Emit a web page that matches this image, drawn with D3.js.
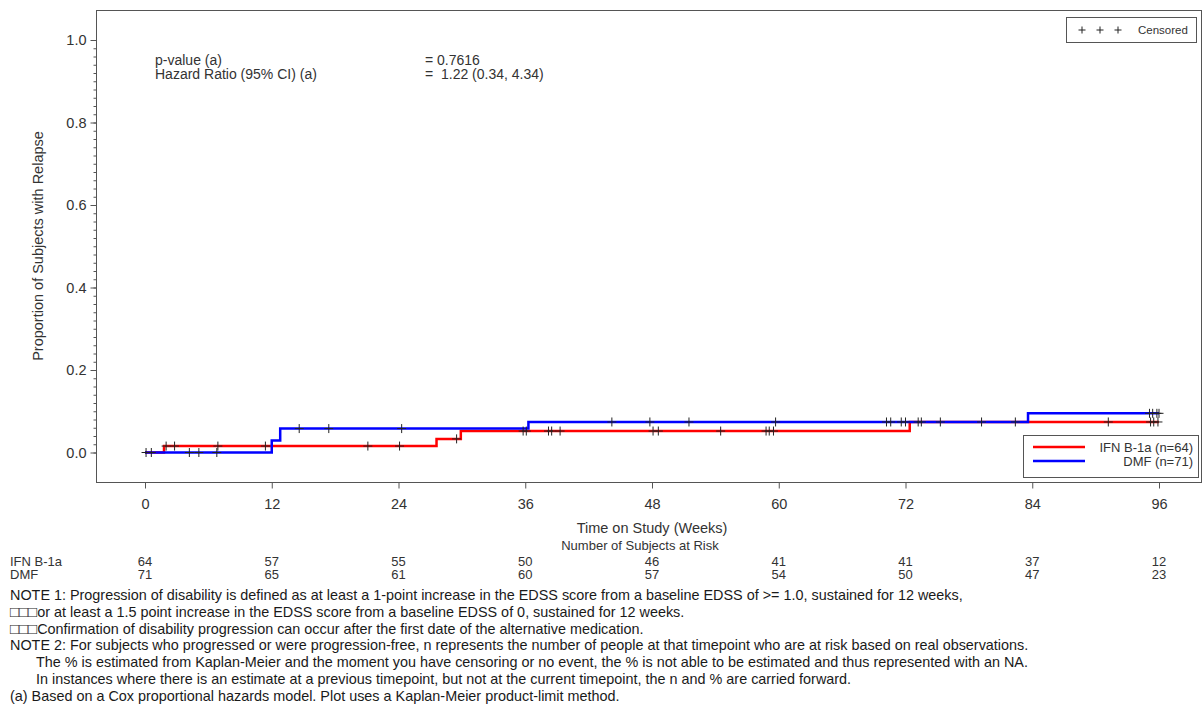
<!DOCTYPE html>
<html>
<head>
<meta charset="utf-8">
<script src="https://cdn.jsdelivr.net/npm/d3@7"></script>
<style>
  body { margin: 0; background: #fff; }
  svg { display: block; }
  text { font-family: "Liberation Sans", Arial, sans-serif; }
</style>
</head>
<body>
<svg id="chart" width="1203" height="706"></svg>
<script>
// Kaplan-Meier time to relapse by treatment arm
const weekTicks = [0, 12, 24, 36, 48, 60, 72, 84, 96];
const yTicks = [0, 0.2, 0.4, 0.6, 0.8, 1.0];

const groupNames = ["IFN B-1a", "DMF"];
const groupLegend = ["IFN B-1a (n=64)", "DMF (n=71)"];
const groupColors = ["#ff0000", "#0000ff"];

// step curves: week of each event and cumulative proportion after it
const ifnEventWeeks = [0, 1.8, 27.6, 29.9, 72.4];
const ifnCumProp    = [0, 0.0156, 0.033, 0.052, 0.074];
const ifnLastWeek = 96.0;
const dmfEventWeeks = [0, 12.0, 12.8, 36.3, 83.6];
const dmfCumProp    = [0, 0.029, 0.058, 0.074, 0.095];
const dmfLastWeek = 96.0;

// censoring times (weeks)
const ifnCensorWeeks = [2.0, 2.8, 6.9, 11.4, 21.1, 24.1, 29.5, 35.8, 36.1, 38.2, 38.5, 39.3,
  48.1, 48.6, 54.5, 58.8, 59.1, 59.5, 91.2, 95.2, 95.5, 95.9];
const dmfCensorWeeks = [0.1, 0.6, 4.2, 5.1, 6.8, 14.6, 17.4, 24.3, 44.2, 47.8, 51.5, 59.7,
  70.2, 70.6, 71.6, 72.0, 73.2, 73.5, 75.3, 79.2, 82.4, 95.1, 95.4, 95.8, 96.0];

// number at risk at each tick week
const ifnAtRisk = [64, 57, 55, 50, 46, 41, 41, 37, 12];
const dmfAtRisk = [71, 65, 61, 60, 57, 54, 50, 47, 23];

const statLabels = ["p-value (a)", "Hazard Ratio (95% CI) (a)"];
const statValues = ["= 0.7616", "=  1.22 (0.34, 4.34)"];

const tofu = "\u25A1\u25A1\u25A1";
const noteLines = [
  { indent: 0, pre: "", text: "NOTE 1: Progression of disability is defined as at least a 1-point increase in the EDSS score from a baseline EDSS of >= 1.0, sustained for 12 weeks," },
  { indent: 0, pre: tofu, text: "or at least a 1.5 point increase in the EDSS score from a baseline EDSS of 0, sustained for 12 weeks." },
  { indent: 0, pre: tofu, text: "Confirmation of disability progression can occur after the first date of the alternative medication." },
  { indent: 0, pre: "", text: "NOTE 2: For subjects who progressed or were progression-free, n represents the number of people at that timepoint who are at risk based on real observations." },
  { indent: 1, pre: "", text: "The % is estimated from Kaplan-Meier and the moment you have censoring or no event, the % is not able to be estimated and thus represented with an NA." },
  { indent: 1, pre: "", text: "In instances where there is an estimate at a previous timepoint, but not at the current timepoint, the n and % are carried forward." },
  { indent: 0, pre: "", text: "(a) Based on a Cox proportional hazards model. Plot uses a Kaplan-Meier product-limit method." }
];

const svg = d3.select("#chart");
const frame = { left: 96, top: 10, right: 1201, bottom: 482 };

const x = d3.scaleLinear().domain([0, 96]).range([145, 1159]);
const y = d3.scaleLinear().domain([0, 1]).range([452.5, 40]);

const axisColor = "#555";
const textColor = "#333";
const fontFamily = '"Liberation Sans", Arial, sans-serif';

// frame
svg.append("rect")
  .attr("x", frame.left + 0.5).attr("y", frame.top + 0.5)
  .attr("width", frame.right - frame.left).attr("height", frame.bottom - frame.top)
  .attr("fill", "none").attr("stroke", axisColor).attr("stroke-width", 1);

// y axis: minor ticks every 0.02, major every 0.2
const yMinor = d3.range(0, 51).map(i => i * 0.02);
const yMinorAxis = d3.axisLeft(y).tickValues(yMinor).tickSize(3).tickFormat("");
svg.append("g").attr("transform", `translate(${frame.left + 0.5},0)`).call(yMinorAxis)
  .call(g => g.select(".domain").remove())
  .call(g => g.selectAll("line").attr("stroke", axisColor));
const yAxis = d3.axisLeft(y).tickValues(yTicks).tickSize(6).tickPadding(4).tickFormat(d3.format(".1f"));
svg.append("g").attr("transform", `translate(${frame.left + 0.5},0)`).call(yAxis)
  .call(g => g.select(".domain").remove())
  .call(g => g.selectAll("line").attr("stroke", axisColor))
  .call(g => g.selectAll("text").attr("font-size", 14.5).attr("fill", textColor)
    .attr("font-family", fontFamily));

// x axis
const xAxis = d3.axisBottom(x).tickValues(weekTicks).tickSize(6).tickPadding(10).tickFormat(d3.format("d"));
svg.append("g").attr("transform", `translate(0,${frame.bottom + 0.5})`).call(xAxis)
  .call(g => g.select(".domain").remove())
  .call(g => g.selectAll("line").attr("stroke", axisColor))
  .call(g => g.selectAll("text").attr("font-size", 14.5).attr("fill", textColor)
    .attr("font-family", fontFamily));

// axis titles
svg.append("text")
  .attr("transform", `translate(43,${(frame.top + frame.bottom) / 2}) rotate(-90)`)
  .attr("text-anchor", "middle").attr("font-size", 14.5).attr("fill", textColor)
  .text("Proportion of Subjects with Relapse");
svg.append("text")
  .attr("x", 652).attr("y", 533).attr("text-anchor", "middle")
  .attr("font-size", 14.5).attr("fill", textColor)
  .text("Time on Study (Weeks)");

// statistics block
statLabels.forEach((s, i) => {
  svg.append("text").attr("x", 155).attr("y", 64.5 + i * 14.5)
    .attr("font-size", 14).attr("fill", textColor).text(s);
  svg.append("text").attr("x", 425).attr("y", 64.5 + i * 14.5)
    .attr("font-size", 14).attr("fill", textColor)
    .style("white-space", "pre").text(statValues[i]);
});

// step curves
function stepPoints(weeks, props, last) {
  const pts = weeks.map((w, i) => [w, props[i]]);
  pts.push([last, props[props.length - 1]]);
  return pts;
}
function stepValue(weeks, props, t) {
  let v = props[0];
  for (let i = 0; i < weeks.length; i++) if (weeks[i] <= t) v = props[i];
  return v;
}
const line = d3.line().x(d => x(d[0])).y(d => y(d[1])).curve(d3.curveStepAfter);

const curves = [
  { weeks: ifnEventWeeks, props: ifnCumProp, last: ifnLastWeek, censor: ifnCensorWeeks, color: groupColors[0] },
  { weeks: dmfEventWeeks, props: dmfCumProp, last: dmfLastWeek, censor: dmfCensorWeeks, color: groupColors[1] }
];

curves.forEach(c => {
  svg.append("path")
    .attr("d", line(stepPoints(c.weeks, c.props, c.last)))
    .attr("fill", "none").attr("stroke", c.color).attr("stroke-width", 2.5);
});

const plusPath = "M-4.5,0H4.5M0,-4.5V4.5";
curves.forEach(c => {
  svg.append("g").selectAll("path").data(c.censor).join("path")
    .attr("transform", t => `translate(${x(t)},${y(stepValue(c.weeks, c.props, t))})`)
    .attr("d", plusPath).attr("fill", "none").attr("stroke", "#222").attr("stroke-width", 1);
});

// censor legend (top right)
const cl = svg.append("g");
cl.append("rect").attr("x", 1066.5).attr("y", 17.5).attr("width", 130).attr("height", 25)
  .attr("fill", "#fff").attr("stroke", axisColor);
[1082, 1100, 1118].forEach(px => {
  cl.append("path").attr("transform", `translate(${px},30)`)
    .attr("d", "M-3.5,0H3.5M0,-3.5V3.5").attr("stroke", "#222").attr("stroke-width", 1);
});
cl.append("text").attr("x", 1138).attr("y", 34).attr("font-size", 11.5).attr("fill", textColor)
  .text("Censored");

// group legend (bottom right)
const gl = svg.append("g");
gl.append("rect").attr("x", 1023.5).attr("y", 435.5).attr("width", 175).attr("height", 42)
  .attr("fill", "#fff").attr("stroke", axisColor);
groupLegend.forEach((lab, i) => {
  const ly = 447 + i * 14;
  gl.append("line").attr("x1", 1033).attr("x2", 1085).attr("y1", ly).attr("y2", ly)
    .attr("stroke", groupColors[i]).attr("stroke-width", 2.5);
  gl.append("text").attr("x", 1193).attr("y", ly + 4.5).attr("text-anchor", "end")
    .attr("font-size", 13).attr("fill", textColor).text(lab);
});

// number at risk table
svg.append("text").attr("x", 640).attr("y", 550).attr("text-anchor", "middle")
  .attr("font-size", 13).attr("fill", textColor).text("Number of Subjects at Risk");
[ifnAtRisk, dmfAtRisk].forEach((row, i) => {
  const ry = 566 + i * 13;
  svg.append("text").attr("x", 10).attr("y", ry).attr("font-size", 13).attr("fill", textColor)
    .text(groupNames[i]);
  svg.append("g").selectAll("text").data(row).join("text")
    .attr("x", (d, j) => x(weekTicks[j])).attr("y", ry).attr("text-anchor", "middle")
    .attr("font-size", 13).attr("fill", textColor).text(d => d);
});

// footnotes
noteLines.forEach((n, i) => {
  const t = svg.append("text").attr("x", n.indent ? 36 : 10).attr("y", 600 + i * 16.8)
    .attr("font-size", 14.4).attr("fill", "#1a1a1a");
  if (n.pre) t.append("tspan").attr("font-size", 15).text(n.pre);
  t.append("tspan").text(n.text);
});
</script>
</body>
</html>
